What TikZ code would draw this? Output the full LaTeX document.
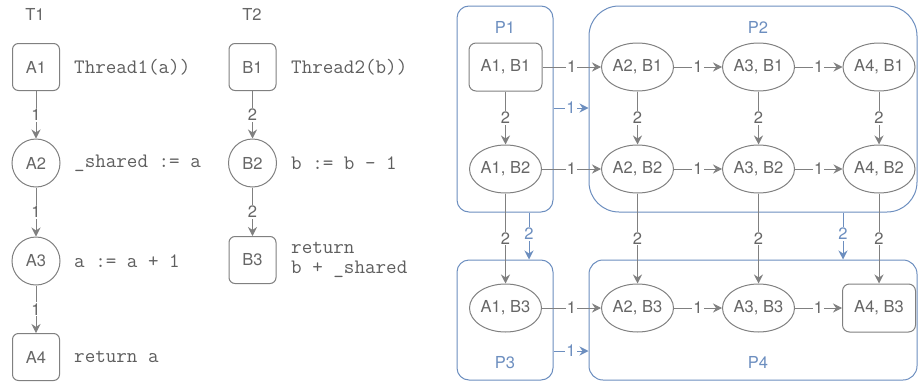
\documentclass[tikz,border=0pt]{standalone}
\usepackage{fontspec}
\setmainfont{TeX Gyre Heros}
\usetikzlibrary{arrows.meta,shapes.geometric}
\definecolor{lg}{HTML}{808080}
\definecolor{tg}{HTML}{666666}
\definecolor{cg}{HTML}{5E5E5E}
\definecolor{bl}{HTML}{6C8EBF}
\begin{document}
\begin{tikzpicture}[x=1pt,y=-1pt,
 every node/.style={font=\fontsize{16.5}{19}\selectfont, text=tg},
 box/.style={draw=lg, rounded corners=6pt, minimum width=47pt, minimum height=47pt, line width=1pt, inner sep=0pt},
 circ/.style={draw=lg, circle, minimum size=48pt, inner sep=0pt, line width=1pt},
 sbox/.style={draw=lg, rounded corners=7pt, minimum width=73pt, minimum height=48pt, line width=1pt, inner sep=0pt},
 ell/.style={draw=lg, ellipse, minimum width=72pt, minimum height=48pt, inner sep=0pt, line width=1pt},
 code/.style={anchor=west, inner sep=0pt, font=\fontsize{20.5}{20.5}\selectfont\ttfamily, text=cg, align=left},
 arr/.style={draw=lg, line width=1pt, -{Stealth[length=9pt,width=9pt,inset=3pt]}},
 barr/.style={draw=bl, line width=1pt, -{Stealth[length=9pt,width=9pt,inset=3pt]}},
 lab/.style={fill=white, inner sep=1pt, text=tg},
 blab/.style={fill=white, inner sep=1pt, text=bl},
 cont/.style={draw=bl, line width=1pt},
 ttl/.style={text=bl},
]
\useasboundingbox (0,0) rectangle (918,383);

% ---- left: threads
\node (T1) at (35,14) {T1};
\node (T2) at (252,14) {T2};

\node[box]  (A1) at (36,67)  {A1};
\node[circ] (A2) at (36,163) {A2};
\node[circ] (A3) at (36,261) {A3};
\node[box]  (A4) at (36,357) {A4};

\node[code] (cA1) at (74,67)  {Thread1(a))};
\node[code] (cA2) at (74,163) {\_shared := a};
\node[code] (cA3) at (74,261) {a := a + 1};
\node[code] (cA4) at (74,357) {return a};

\draw[arr] (A1) -- node[lab]{1} (A2);
\draw[arr] (A2) -- node[lab]{1} (A3);
\draw[arr] (A3) -- node[lab]{1} (A4);

\node[box]  (B1) at (252.5,67)  {B1};
\node[circ] (B2) at (252.5,163) {B2};
\node[box]  (B3) at (252.5,260) {B3};

\node[code] (cB1) at (291,67)  {Thread2(b))};
\node[code] (cB2) at (291,163) {b := b - 1};
\node[code] (cB3) at (291,260) {return\\b + \_shared};

\draw[arr] (B1) -- node[lab]{2} (B2);
\draw[arr] (B2) -- node[lab]{2} (B3);

% ---- right: containers
\node[cont, rounded corners=12pt, minimum width=96pt, minimum height=206pt] (P1) at (505,109) {};
\node[cont, rounded corners=30pt, minimum width=328pt, minimum height=206pt] (P2) at (753,109) {};
\node[cont, rounded corners=12pt, minimum width=96pt, minimum height=120pt] (P3) at (505,320) {};
\node[cont, rounded corners=14pt, minimum width=328pt, minimum height=120pt] (P4) at (753,320) {};

\node[ttl] (lP1) at (505,27)  {P1};
\node[ttl] (lP2) at (758,27)  {P2};
\node[ttl] (lP3) at (505,363) {P3};
\node[ttl] (lP4) at (758,362) {P4};

% ---- state nodes
\node[sbox] (n11) at (505.5,67)  {A1, B1};
\node[ell]  (n21) at (637.5,67)  {A2, B1};
\node[ell]  (n31) at (758.5,67)  {A3, B1};
\node[ell]  (n41) at (879,67)    {A4, B1};

\node[ell]  (n12) at (505.5,169) {A1, B2};
\node[ell]  (n22) at (637.5,169) {A2, B2};
\node[ell]  (n32) at (758.5,169) {A3, B2};
\node[ell]  (n42) at (879,169)   {A4, B2};

\node[ell]  (n13) at (505.5,308) {A1, B3};
\node[ell]  (n23) at (637.5,308) {A2, B3};
\node[ell]  (n33) at (758.5,308) {A3, B3};
\node[sbox] (n43) at (879,308)   {A4, B3};

% horizontal edges
\foreach \r in {1,2,3}{
  \draw[arr] (n1\r) -- node[lab]{1} (n2\r);
  \draw[arr] (n2\r) -- node[lab]{1} (n3\r);
  \draw[arr] (n3\r) -- node[lab]{1} (n4\r);
}
% vertical edges
\foreach \c in {1,2,3,4}{
  \draw[arr] (n\c1) -- node[lab]{2} (n\c2);
  \draw[arr] (n\c2) -- node[lab]{2} (n\c3);
}

% container edges
\draw[barr] ([yshift=1pt]P1.east) -- node[blab]{1} ([yshift=1pt]P2.west);
\draw[barr] ([yshift=-31pt]P3.east) -- node[blab]{1} ([yshift=-31pt]P4.west);
\draw[barr] ([xshift=24pt]P1.south) -- node[blab,pos=0.45]{2} ([xshift=24pt]P3.north);
\draw[barr] ([xshift=90pt]P2.south) -- node[blab,pos=0.45]{2} ([xshift=90pt]P4.north);
\end{tikzpicture}
\end{document}
